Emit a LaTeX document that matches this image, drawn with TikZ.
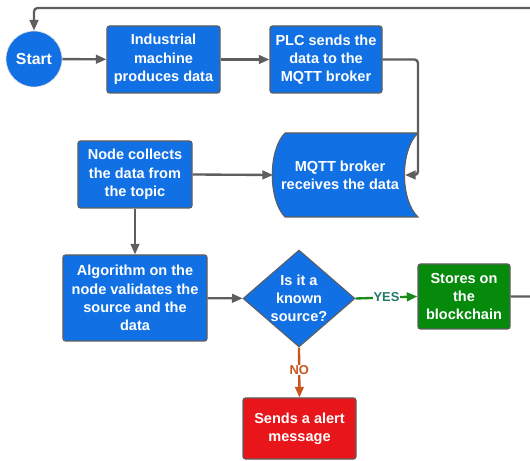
\documentclass[tikz,border=0pt]{standalone}
\usepackage{fontspec}
\setmainfont{Liberation Sans}
\usetikzlibrary{arrows.meta,shapes.geometric}
\definecolor{boxblue}{HTML}{1170E4}
\definecolor{boxgreen}{HTML}{058A0B}
\definecolor{boxred}{HTML}{E8151B}
\definecolor{edgegray}{HTML}{5E5E5E}
\definecolor{yesgreen}{HTML}{1A8A1A}
\definecolor{yestext}{HTML}{227A68}
\definecolor{noorange}{HTML}{C8561A}
\begin{document}
\begin{tikzpicture}[x=0.03cm, y=-0.03cm,
  stepbox/.style={draw=edgegray, line width=0.9pt, rounded corners=2pt, fill=boxblue, text=white, align=center, inner sep=1pt, font=\fontsize{12.4}{15.6}\selectfont\bfseries},
  startnode/.style={circle, draw=gray!25, line width=0.6pt, fill=boxblue, text=white, minimum size=1.68cm, inner sep=0pt, font=\fontsize{13.5}{15}\selectfont\bfseries},
  decision/.style={diamond, draw=edgegray, line width=0.9pt, fill=boxblue, minimum width=3.36cm, minimum height=2.91cm, inner sep=0pt},
  txt/.style={text=white, align=center, font=\fontsize{12.4}{15.6}\selectfont\bfseries},
  arrow/.style={-{Triangle[length=3.2mm,width=2.6mm]}, line width=2pt, draw=edgegray},
  tag/.style={fill=white, inner sep=0.5pt, font=\fontsize{11}{12}\selectfont\bfseries}
]
\useasboundingbox (0,0) rectangle (530,461);
\node[startnode] (start) at (34,59) {Start};
\node[stepbox, minimum width=3.39cm, minimum height=2.01cm] (machine) at (163.5,59.5) {Industrial\\machine\\produces data};
\node[stepbox, minimum width=3.36cm, minimum height=2.01cm] (plc) at (326,59.5) {PLC sends the\\data to the\\MQTT broker};
% broker: stored data shape
\draw[draw=edgegray, line width=0.9pt, fill=boxblue] (285,133) -- (418,133) .. controls (400,150) and (400,200) .. (418,217) -- (285,217) .. controls (268,200) and (268,150) .. (285,133);
\node[txt, minimum width=4.35cm, minimum height=2.52cm] (broker) at (340,175) {MQTT broker\\receives the data};
\coordinate (brokerin) at (405,175);
\node[stepbox, minimum width=3.42cm, minimum height=2.01cm] (collect) at (135,174.5) {Node collects\\the data from\\the topic};
\node[stepbox, minimum width=4.32cm, minimum height=2.58cm] (algo) at (135,298) {Algorithm on the\\node validates the\\source and the\\data};
\node[decision] (known) at (299,298.5) {};
\node[txt] at (known) {Is it a\\known\\source?};
\node[stepbox, fill=boxgreen, minimum width=2.76cm, minimum height=1.95cm] (store) at (464,296.5) {Stores on\\the\\blockchain};
\node[stepbox, fill=boxred, minimum width=3.39cm, minimum height=1.83cm] (alert) at (299.5,428.5) {Sends a alert\\message};
\coordinate (loopbot) at (540,296.5);
\coordinate (looptop) at (540,8);
\draw[arrow] (start) -- (machine);
\draw[arrow] (machine) -- (plc);
\draw[arrow, rounded corners=3pt] (plc.east) -- (418,59.5) |- (brokerin);
\draw[arrow] (collect.east) -- (273,175);
\draw[arrow] (collect) -- (algo);
\draw[arrow] (algo) -- (known);
\draw[arrow, draw=yesgreen] (known.east) -- node[tag, text=yestext, pos=0.5] {YES} (store.west);
\draw[arrow, draw=noorange] (known.south) -- node[tag, text=noorange, pos=0.45] {NO} (alert.north);
\draw[arrow, rounded corners=3pt] (store.east) -- (loopbot) -- (looptop) -| (start.north);
\end{tikzpicture}
\end{document}
